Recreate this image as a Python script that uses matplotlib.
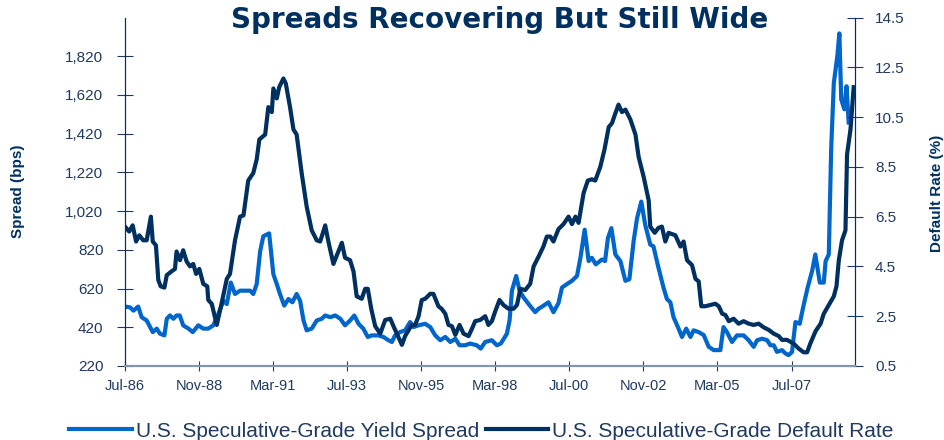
import matplotlib
matplotlib.use("Agg")
import matplotlib.pyplot as plt

# month index 0 = Jul-86
tick_months = [0, 28, 56, 84, 112, 140, 168, 196, 224, 252]
tick_labels = ["Jul-86", "Nov-88", "Mar-91", "Jul-93", "Nov-95",
               "Mar-98", "Jul-00", "Nov-02", "Mar-05", "Jul-07"]

# U.S. speculative-grade yield spread (bps), left axis
spread_m = [0, 1.9, 3.2, 5.0, 6.3, 8.2, 9.5, 10.5, 12.0, 13.2, 14.9, 15.8, 17.0, 18.3, 19.5,
            20.7, 22.0, 24.0, 25.6, 27.7, 29.6, 31.5, 33.4, 35.3, 37.2, 38.5, 40.0, 41.6,
            43.5, 45.4, 47.3, 48.5, 49.8, 51.1, 52.3, 54.5, 56.1, 57.4, 58.6, 60.2, 61.8,
            63.3, 64.9, 66.2, 67.5, 68.7, 70.6, 72.5, 74.4, 75.7, 77.6, 79.5, 81.4, 83.2,
            85.1, 86.7, 88.3, 90.1, 91.8, 93.3, 95.8, 97.7, 99.6, 100.9, 102.1, 104.0,
            105.9, 107.8, 109.1, 111.0, 113.5, 115.4, 117.3, 119.2, 121.1, 123.0, 124.9,
            126.5, 128.6, 130.5, 133.0, 134.5, 136.2, 138.7, 140.6, 142.1, 144.4, 145.4,
            146.3, 147.9, 149.2, 150.7, 152.6, 155.1, 156.3, 158.3, 160.1, 162.0, 163.9,
            165.2, 167.1, 169.0, 170.9, 172.2, 173.8, 175.3, 176.5, 178.0, 180.3, 181.5,
            182.6, 183.9, 185.4, 187.3, 189.2, 190.7, 192.3, 193.6, 195.2, 196.7, 198.6,
            199.8, 201.7, 203.6, 204.9, 206.2, 207.4, 209.3, 210.6, 212.2, 213.8, 215.0,
            216.9, 218.8, 220.7, 222.6, 225.1, 226.3, 227.6, 229.5, 231.4, 233.9, 235.8,
            237.7, 239.0, 240.9, 242.8, 244.0, 245.3, 246.5, 248.4, 249.7, 250.9, 252.2,
            253.5, 255.1, 256.4, 258.1, 259.8, 261.0, 262.7, 264.2, 264.9, 266.1, 267.0,
            268.0, 269.3, 270.1, 270.8, 272.0, 272.8, 273.6]
spread_bps = [527, 523, 506, 527, 472, 455, 421, 395, 413, 387, 378, 464, 481, 464, 481,
              481, 430, 413, 395, 430, 413, 413, 430, 489, 557, 540, 651, 592,
              609, 609, 609, 592, 643, 813, 890, 905, 694, 643, 592, 532, 566,
              549, 592, 557, 455, 404, 413, 455, 464, 481, 472, 481, 464, 430,
              455, 481, 438, 413, 370, 378, 378, 370, 353, 344, 378, 395,
              404, 447, 421, 430, 438, 421, 378, 353, 370, 344, 361,
              327, 327, 336, 327, 310, 344, 353, 327, 336, 387, 455,
              609, 685, 609, 574, 540, 498, 515, 532, 549, 498, 545,
              625, 643, 660, 685, 779, 924, 762, 779, 745, 770, 762,
              881, 932, 796, 762, 660, 668, 864, 983, 1069, 949, 847,
              838, 728, 625, 566, 549, 472, 413, 370, 413, 370, 404,
              395, 380, 319, 302, 302, 421, 395, 344, 378, 378, 353,
              319, 353, 361, 353, 327, 327, 293, 302, 285, 276, 293,
              447, 438, 523, 625, 711, 796, 651, 651, 762, 796, 1341,
              1682, 1818, 1938, 1597, 1546, 1665, 1478]

# U.S. speculative-grade default rate (%), right axis
default_m = [0, 1.6, 2.9, 4.2, 5.4, 6.9, 8.2, 9.8, 10.5, 11.7, 12.6, 13.5, 14.9, 15.8, 17.6,
             18.9, 19.5, 20.8, 22.0, 23.3, 24.6, 25.8, 26.9, 28.1, 29.6, 31.1, 31.5, 32.8,
             34.7, 36.5, 38.5, 39.7, 41.6, 43.5, 44.8, 46.6, 48.5, 49.8, 50.8, 53.0, 54.2,
             55.5, 56.1, 57.4, 58.3, 59.9, 60.8, 62.4, 63.7, 64.9, 66.8, 68.7, 70.6, 72.5,
             73.8, 75.7, 76.9, 78.8, 80.1, 82.0, 83.2, 85.1, 86.4, 87.6, 89.5, 90.8, 91.8,
             93.1, 94.6, 96.5, 98.4, 100.3, 101.5, 102.8, 104.7, 105.9, 108.4, 109.7, 111.0,
             112.2, 113.5, 115.4, 116.6, 118.5, 119.7, 121.1, 122.3, 123.6, 124.9, 126.5,
             128.0, 129.9, 131.2, 132.4, 134.3, 136.2, 137.4, 138.7, 140.0, 141.6, 143.1,
             145.0, 146.9, 148.2, 149.5, 151.3, 153.2, 154.5, 156.4, 158.2, 159.5, 160.8,
             162.0, 163.9, 165.8, 167.7, 169.0, 170.3, 171.5, 173.4, 175.0, 176.5, 177.8,
             179.7, 181.3, 182.9, 184.1, 185.4, 186.6, 187.9, 189.2, 191.1, 193.0, 194.2,
             196.1, 198.0, 198.6, 200.3, 201.7, 203.0, 204.3, 205.5, 208.1, 210.0, 211.2,
             212.5, 214.4, 215.7, 216.9, 217.9, 219.4, 221.3, 223.2, 224.5, 225.8, 227.0,
             228.3, 230.1, 232.0, 233.9, 235.8, 237.7, 239.6, 241.5, 243.4, 245.3, 247.2,
             248.4, 250.3, 252.8, 254.7, 256.6, 257.9, 259.1, 261.1, 263.0, 264.2, 266.1,
             268.0, 269.0, 269.9, 271.1, 272.4, 273.0, 274.3, 275.5]
default_pct = [6.1, 5.9, 6.15, 5.5, 5.75, 5.55, 5.55, 6.5, 5.5, 5.35, 3.95, 3.7, 3.65, 4.15, 4.3,
               4.4, 5.1, 4.75, 5.15, 4.7, 4.5, 4.6, 4.2, 4.4, 3.8, 3.7, 3.15, 3.0,
               2.15, 3.0, 4.0, 4.2, 5.55, 6.5, 6.55, 7.95, 8.25, 8.8, 9.6, 9.8, 10.9,
               10.7, 11.65, 11.25, 11.7, 12.05, 11.85, 10.9, 10.0, 9.8, 8.25, 6.9, 5.95, 5.55,
               5.5, 6.15, 5.5, 4.6, 4.95, 5.45, 4.85, 4.75, 4.3, 3.3, 3.2, 3.6, 3.6,
               2.8, 2.1, 1.8, 2.35, 2.4, 2.1, 1.8, 1.35, 1.7, 2.15, 2.15, 2.5,
               3.15, 3.2, 3.4, 3.4, 2.9, 2.8, 2.6, 2.15, 2.1, 1.75, 2.15,
               1.8, 1.7, 2.0, 2.3, 2.35, 2.5, 2.15, 2.3, 2.7, 3.15, 2.95,
               2.8, 2.8, 2.95, 3.6, 3.55, 3.8, 4.5, 4.9, 5.3, 5.7, 5.7,
               5.5, 6.0, 6.2, 6.5, 6.2, 6.5, 6.25, 7.45, 7.95, 8.0, 7.95,
               8.5, 9.2, 10.1, 10.25, 10.65, 11.0, 10.7, 10.8, 10.4, 9.8, 8.9,
               8.1, 7.15, 6.1, 5.85, 6.05, 6.1, 5.5, 5.85, 5.75, 5.3, 5.5,
               4.75, 4.55, 4.0, 3.9, 2.9, 2.9, 2.95, 3.0, 2.9, 2.6, 2.55,
               2.3, 2.4, 2.2, 2.3, 2.2, 2.15, 2.2, 2.05, 1.95, 1.8, 1.7,
               1.55, 1.55, 1.4, 1.2, 1.05, 1.05, 1.4, 1.9, 2.2, 2.6, 2.95,
               3.3, 3.7, 4.75, 5.55, 5.95, 9.0, 10.0, 11.7]

blue = "#0066CC"
navy = "#00305F"
txt = "#1F3A60"

fig = plt.figure(figsize=(9.44, 4.4), dpi=100)
ax = fig.add_axes([0.1324, 0.1682, 0.7733, 0.7920])
ax2 = ax.twinx()

l1, = ax.plot(spread_m, spread_bps, color=blue, lw=3, solid_joinstyle="round",
              label="U.S. Speculative-Grade Yield Spread")
l2, = ax2.plot(default_m, default_pct, color=navy, lw=3, solid_joinstyle="round",
               label="U.S. Speculative-Grade Default Rate")

ax.set_xlim(0, 276)
ax.set_ylim(220, 2020)
ax2.set_ylim(0.5, 14.5)
ax.set_yticks(range(220, 1821, 200))
ax.set_yticklabels(["{:,}".format(v) for v in range(220, 1821, 200)])
ax2.set_yticks([0.5, 2.5, 4.5, 6.5, 8.5, 10.5, 12.5, 14.5])
ax.set_xticks(tick_months)
ax.set_xticklabels(tick_labels)

for a in (ax, ax2):
    a.spines["top"].set_visible(False)
    a.spines["left"].set_color(navy)
    a.spines["right"].set_color(navy)
    a.spines["bottom"].set_color("#8096B0")
    a.spines["bottom"].set_linewidth(1.5)

ax.tick_params(axis="y", direction="inout", length=11, color=txt, labelsize=11,
               labelcolor=txt, pad=10)
ax2.tick_params(axis="y", direction="inout", length=11, color=txt, labelsize=11,
                labelcolor=txt, pad=9)
ax.tick_params(axis="x", direction="inout", length=7, color=txt, labelsize=10.5,
               labelcolor=txt, pad=6)
for lab in ax.get_yticklabels() + ax2.get_yticklabels() + ax.get_xticklabels():
    lab.set_family("Liberation Sans")

fig.text(0.019, 0.565, "Spread (bps)", rotation=90, ha="center", va="center",
         fontsize=11, fontweight="bold", color=navy, family="Liberation Sans")
fig.text(0.993, 0.56, "Default Rate (%)", rotation=90, ha="center", va="center",
         fontsize=11, fontweight="bold", color=navy, family="Liberation Sans")
fig.text(0.529, 0.955, "Spreads Recovering But Still Wide", ha="center", va="center",
         fontsize=20, fontweight="bold", color=navy, family="DejaVu Sans")

fig.legend(handles=[l1, l2], loc="center", bbox_to_anchor=(0.51, 0.02), ncol=2,
           frameon=False, handlelength=3.0, handletextpad=0.2,
           columnspacing=0.3, labelcolor=txt, prop={"family": "Liberation Sans", "size": 15})

fig.savefig("out.png", dpi=100)
